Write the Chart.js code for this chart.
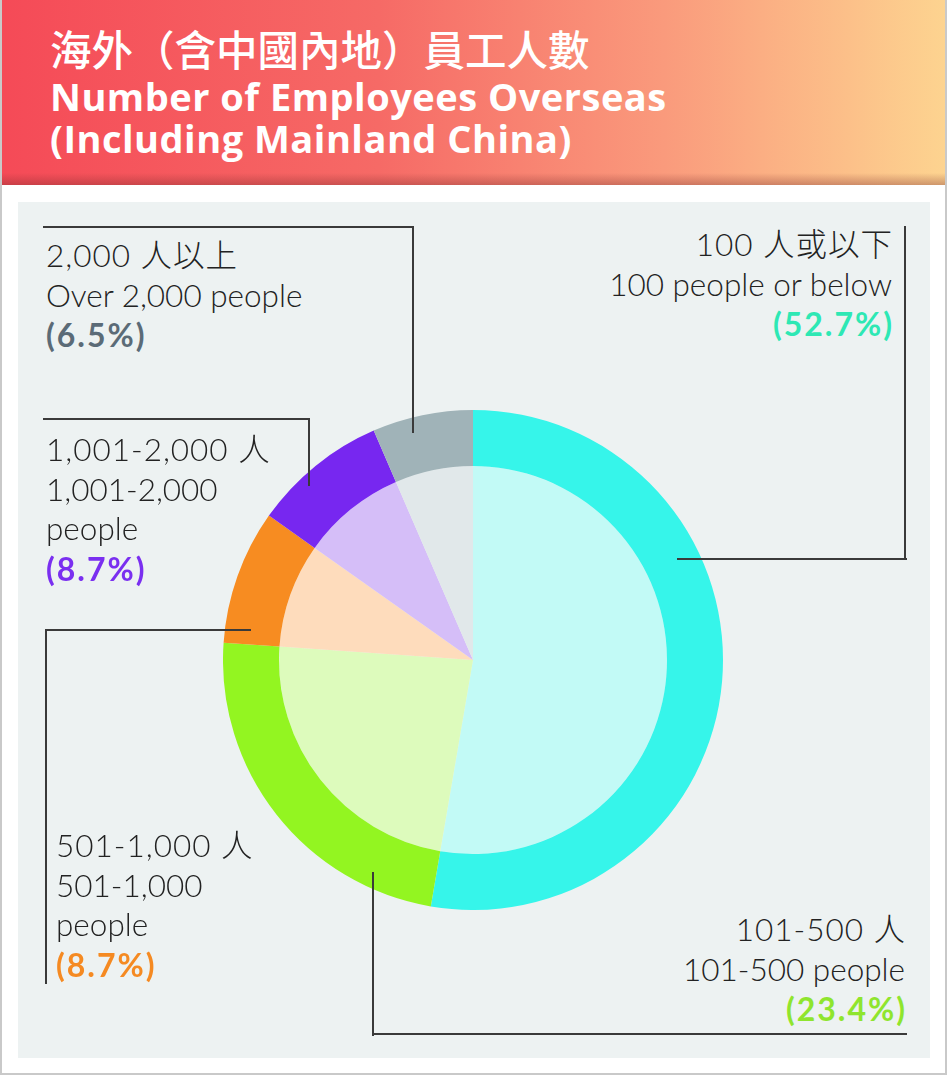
<!DOCTYPE html>
<html>
<head>
<meta charset="utf-8">
<script src="https://cdn.jsdelivr.net/npm/chart.js@4.4.0/dist/chart.umd.min.js"></script>
<style>
  html, body { margin: 0; padding: 0; }
  body { width: 947px; height: 1076px; position: relative; background: #fff; overflow: hidden;
         font-family: Lato, "Noto Sans CJK TC", sans-serif; }
  .frame { position: absolute; left: 0; top: 0; width: 947px; height: 1075px;
           border-left: 2px solid #c9c9c9; border-right: 2px solid #c9c9c9; border-bottom: 2px solid #c9c9c9;
           box-sizing: border-box; }
  .header { position: absolute; left: 0; top: 0; width: 947px; height: 185px;
            background: linear-gradient(to right, #f54a57 0%, #f66a66 40%, #fa9a7c 70%, #fdd490 100%); }
  .header::after { content: ""; position: absolute; left: 0; right: 0; bottom: 0; height: 12px;
            background: linear-gradient(to bottom, rgba(120,40,40,0) 0%, rgba(120,40,40,0.35) 100%); }
  .title { position: absolute; left: 50px; color: #fff; font-weight: bold; white-space: nowrap; }
  .t1 { top: 24px; font-size: 41.5px; font-family: "Noto Sans CJK TC", sans-serif; font-weight: 500; line-height: 48px; }
  .t2, .t3 { font-family: "Open Sans", sans-serif; font-size: 38px; line-height: 42px; letter-spacing: 0.5px; }
  .t2 { top: 75px; }
  .t3 { top: 117px; }
  .panel { position: absolute; left: 18px; top: 202px; width: 912px; height: 856px; background: #edf2f2; }
  #wrap { position: absolute; left: 223px; top: 410px; width: 500px; height: 500px; }
  .lbl { position: absolute; font-size: 31.5px; line-height: 39.5px; color: #222; font-weight: 300; white-space: nowrap; }
  .lbl.r { text-align: right; }
  .lbl .zh { letter-spacing: 1px; }
  .lbl.r .zh { margin-right: -1px; }
  .lbl b { font-weight: bold; font-size: 32px; letter-spacing: 2px; }
  .lbl.r b { margin-right: -2px; }
  .ln { position: absolute; background: #3a3a3a; }
</style>
</head>
<body>
<div class="header">
  <div class="title t1">海外（含中國內地）員工人數</div>
  <div class="title t2">Number of Employees Overseas</div>
  <div class="title t3">(Including Mainland China)</div>
</div>
<div class="panel"></div>
<div id="wrap"><canvas id="pie"></canvas></div>
<div id="labels"></div>
<div class="frame"></div>

<script>
// Data
const categoriesZh = ['100 人或以下', '101-500 人', '501-1,000 人', '1,001-2,000 人', '2,000 人以上'];
const categoriesEn = ['100 people or below', '101-500 people', '501-1,000<br>people', '1,001-2,000<br>people', 'Over 2,000 people'];
const shares = [52.7, 23.4, 8.7, 8.7, 6.5];

const ringColors = ['#36f5ea', '#93f521', '#f78c21', '#7727f0', '#a0b3b8'];
const fillColors = ['#c2faf6', '#ddfbbc', '#fedcbc', '#d5bef8', '#e1e8ea'];
const pctColors = ['#2ee8b4', '#8fe52e', '#f58a22', '#7a2ff0', '#5b6b77'];

// Label blocks: position + leader lines (annotation only)
const labelBoxes = [
  { right: 55, top: 225, align: 'r' },
  { right: 42, top: 910, align: 'r' },
  { left: 56, top: 826, align: 'l' },
  { left: 46, top: 430, align: 'l' },
  { left: 46, top: 236, align: 'l' }
];
const leaders = [
  [[905, 227, 905, 559], [678, 559, 906, 559]],
  [[373, 873, 373, 1035], [373, 1034, 906, 1034]],
  [[46, 630, 46, 983], [46, 630, 250, 630]],
  [[44, 419, 309, 419], [309, 419, 309, 485]],
  [[44, 227, 413, 227], [413, 227, 413, 432]]
];

const labelsEl = document.getElementById('labels');
categoriesZh.forEach((zh, i) => {
  const box = labelBoxes[i];
  const div = document.createElement('div');
  div.className = 'lbl ' + box.align;
  if (box.left !== undefined) div.style.left = box.left + 'px';
  if (box.right !== undefined) div.style.right = box.right + 'px';
  div.style.top = box.top + 'px';
  div.innerHTML = `<span class="zh">${zh}</span><br>${categoriesEn[i]}<br><b style="color:${pctColors[i]}">(${shares[i]}%)</b>`;
  labelsEl.appendChild(div);

  leaders[i].forEach(([x1, y1, x2, y2]) => {
    const ln = document.createElement('div');
    ln.className = 'ln';
    ln.style.left = (Math.min(x1, x2) - 1) + 'px';
    ln.style.top = (Math.min(y1, y2) - 1) + 'px';
    ln.style.width = (Math.abs(x2 - x1) + 2) + 'px';
    ln.style.height = (Math.abs(y2 - y1) + 2) + 'px';
    labelsEl.appendChild(ln);
  });
});

// Pie: outer saturated ring + inner light pie
const ctx = document.getElementById('pie').getContext('2d');
new Chart(ctx, {
  type: 'doughnut',
  data: {
    labels: categoriesEn,
    datasets: [
      { data: shares, backgroundColor: ringColors, borderWidth: 0, weight: 56 },
      { data: shares, backgroundColor: fillColors, borderWidth: 0, weight: 194 }
    ]
  },
  options: {
    responsive: true,
    maintainAspectRatio: false,
    animation: false,
    events: [],
    cutout: 0,
    hoverOffset: 0,
    layout: { padding: 0 },
    plugins: {
      legend: { display: false },
      tooltip: { enabled: false }
    }
  }
});
</script>
</body>
</html>
